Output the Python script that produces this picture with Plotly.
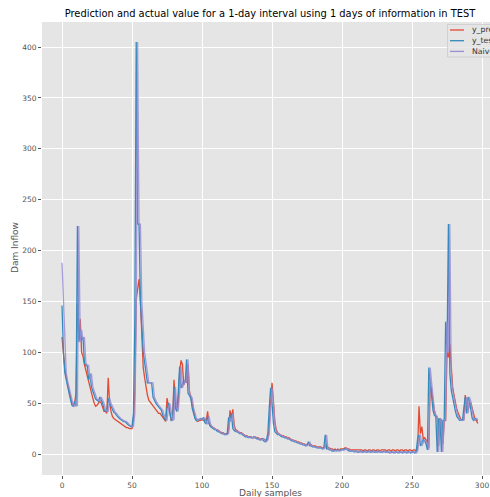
import plotly.graph_objects as go

y_test = [
    146, 100, 80, 72, 66, 60, 54, 48, 47, 52,
    47, 224, 110, 122, 112, 115, 90, 87, 87, 73,
    79, 66, 62, 58, 54, 53, 52, 56, 53, 50,
    44, 42, 42, 55, 50, 46, 44, 41, 40, 38,
    36, 35, 34, 33, 32, 32, 30, 29, 28, 27,
    27, 40, 130, 405, 226, 226, 150, 120, 100, 90,
    80, 70, 70, 70, 70, 56, 52, 50, 48, 46,
    45, 43, 38, 35, 33, 45, 50, 42, 33, 34,
    66, 45, 42, 60, 86, 65, 68, 72, 70, 93,
    60, 58, 55, 45, 40, 35, 33, 34, 34, 35,
    34, 36, 31, 30, 37, 30, 27, 26, 25, 24,
    24, 22, 22, 21, 20, 20, 19, 19, 20, 36,
    32, 40, 25, 23, 22, 22, 21, 20, 20, 19,
    18, 17, 17, 16, 17, 16, 16, 17, 16, 15,
    15, 14, 14, 15, 13, 12, 14, 20, 45, 65,
    50, 30, 22, 20, 19, 19, 18, 17, 17, 16,
    16, 15, 15, 14, 13, 13, 12, 12, 11, 11,
    10, 10, 9, 9, 8, 9, 12, 8, 8, 7,
    7, 7, 6, 6, 6, 6, 5, 6, 19, 5,
    5, 4, 4, 3, 3, 4, 3, 4, 3, 4,
    4, 4, 5, 5, 4, 3, 3, 3, 3, 2,
    3, 2, 2, 3, 2, 2, 3, 2, 2, 3,
    2, 2, 3, 2, 2, 2, 3, 2, 2, 2,
    3, 2, 2, 2, 1, 2, 2, 1, 2, 2,
    1, 2, 2, 1, 2, 2, 1, 2, 2, 1,
    2, 2, 1, 3, 15, 19, 8, 12, 14, 13,
    10, 4, 85, 70, 53, 43, 38, 37, 2, 35,
    34, 2, 33, 33, 130, 100, 226, 80, 63, 55,
    47, 42, 37, 35, 33, 33, 33, 45, 56, 40,
    56, 52, 45, 35, 33, 35, 34, 33,
]

naive = [
    188, 146, 100, 80, 72, 66, 60, 54, 48, 47,
    52, 47, 224, 110, 122, 112, 115, 90, 87, 87,
    73, 79, 66, 62, 58, 54, 53, 52, 56, 53,
    50, 44, 42, 42, 55, 50, 46, 44, 41, 40,
    38, 36, 35, 34, 33, 32, 32, 30, 29, 28,
    27, 27, 40, 130, 405, 226, 226, 150, 120, 100,
    90, 80, 70, 70, 70, 70, 56, 52, 50, 48,
    46, 45, 43, 38, 35, 33, 45, 50, 42, 33,
    34, 66, 45, 42, 60, 86, 65, 68, 72, 70,
    93, 60, 58, 55, 45, 40, 35, 33, 34, 34,
    35, 34, 36, 31, 30, 37, 30, 27, 26, 25,
    24, 24, 22, 22, 21, 20, 20, 19, 19, 20,
    36, 32, 40, 25, 23, 22, 22, 21, 20, 20,
    19, 18, 17, 17, 16, 17, 16, 16, 17, 16,
    15, 15, 14, 14, 15, 13, 12, 14, 20, 45,
    65, 50, 30, 22, 20, 19, 19, 18, 17, 17,
    16, 16, 15, 15, 14, 13, 13, 12, 12, 11,
    11, 10, 10, 9, 9, 8, 9, 12, 8, 8,
    7, 7, 7, 6, 6, 6, 6, 5, 6, 19,
    5, 5, 4, 4, 3, 3, 4, 3, 4, 3,
    4, 4, 4, 5, 5, 4, 3, 3, 3, 3,
    2, 3, 2, 2, 3, 2, 2, 3, 2, 2,
    3, 2, 2, 3, 2, 2, 2, 3, 2, 2,
    2, 3, 2, 2, 2, 1, 2, 2, 1, 2,
    2, 1, 2, 2, 1, 2, 2, 1, 2, 2,
    1, 2, 2, 1, 3, 15, 19, 8, 12, 14,
    13, 10, 4, 85, 70, 53, 43, 38, 37, 2,
    35, 34, 2, 33, 33, 130, 100, 226, 80, 63,
    55, 47, 42, 37, 35, 33, 33, 33, 45, 56,
    40, 56, 52, 45, 35, 33, 35, 34,
]

y_pred = [
    115, 95, 84, 75, 68, 62, 56, 50, 47, 50,
    60, 148, 112, 133, 100, 96, 88, 82, 78, 72,
    66, 60, 55, 50, 47, 48, 50, 52, 50, 46,
    42, 42, 40, 75, 50, 42, 37, 35, 34, 33,
    32, 31, 30, 29, 28, 27, 26, 26, 25, 25,
    25, 33, 60, 152, 160, 172, 150, 110, 85, 75,
    66, 58, 53, 51, 50, 48, 46, 44, 42, 40,
    40, 38, 35, 33, 32, 55, 48, 40, 33, 35,
    73, 52, 42, 50, 80, 92, 88, 68, 72, 70,
    88, 62, 55, 48, 40, 36, 33, 32, 33, 33,
    34, 33, 34, 32, 42, 30, 28, 27, 26, 25,
    24, 24, 23, 22, 21, 21, 20, 20, 20, 24,
    43, 35, 44, 28, 24, 23, 22, 21, 21, 20,
    19, 18, 18, 17, 17, 17, 16, 16, 17, 16,
    16, 15, 15, 15, 15, 14, 13, 15, 25, 52,
    70, 52, 32, 24, 21, 20, 19, 18, 18, 17,
    17, 16, 16, 15, 14, 14, 13, 13, 12, 12,
    11, 11, 10, 10, 9, 9, 10, 10, 9, 8,
    8, 8, 7, 7, 7, 7, 6, 6, 8, 9,
    6, 6, 5, 5, 4, 5, 4, 5, 4, 5,
    5, 5, 6, 6, 5, 5, 4, 4, 4, 4,
    4, 4, 4, 4, 4, 3, 4, 4, 3, 4,
    4, 3, 4, 4, 3, 4, 4, 3, 4, 4,
    4, 4, 3, 4, 4, 3, 4, 4, 3, 4,
    4, 3, 4, 4, 3, 4, 4, 3, 4, 4,
    3, 4, 4, 3, 5, 47, 20, 27, 15, 16,
    14, 11, 6, 70, 62, 50, 42, 38, 36, 8,
    35, 33, 10, 32, 33, 100, 95, 108, 80, 66,
    58, 50, 44, 40, 36, 34, 33, 34, 58, 50,
    42, 50, 50, 45, 38, 34, 33, 30,
]

series_names = ["y_pred", "y_test", "Naive"]
series_colors = ["#E24A33", "#348ABD", "#988ED5"]
x_ticks = [0, 50, 100, 150, 200, 250, 300]
y_ticks = [0, 50, 100, 150, 200, 250, 300, 350, 400]

samples = list(range(len(y_test)))

W, H = 490, 497
L, R, T, B = 42, 490, 22, 475

def xp(px):
    return (px - L) / (R - L)

def yp(py):
    return (B - py) / (B - T)

fig = go.Figure()
for name, vals, col, op in zip(series_names, [y_pred, y_test, naive], series_colors, [1.0, 1.0, 0.85]):
    fig.add_trace(go.Scatter(x=samples, y=vals, mode="lines", name=name,
                             line=dict(color=col, width=1.3), opacity=op))

font = "DejaVu Sans, Arial, sans-serif"
axis_common = dict(
    showgrid=True, gridcolor="white", gridwidth=1, zeroline=False,
    ticks="outside", ticklen=3, tickwidth=0.8, tickcolor="#555555",
    tickfont=dict(family=font, size=7.5, color="#555555"),
    showline=False, automargin=False,
)
fig.update_xaxes(range=[-14.3, 305.7], tickvals=x_ticks, **axis_common)
fig.update_yaxes(range=[-20.6, 424.6], tickvals=y_ticks, **axis_common)

# legend box (upper right, as in the reference)
shapes = [dict(type="rect", xref="paper", yref="paper", x0=xp(447.5), x1=xp(520), y0=yp(57), y1=yp(24.5),
               fillcolor="rgba(229,229,229,0.8)", line=dict(color="#CCCCCC", width=0.8), layer="above")]
annotations = []
for i, (name, col) in enumerate(zip(series_names, series_colors)):
    py = 30 + i * 10.7
    shapes.append(dict(type="line", xref="paper", yref="paper", x0=xp(450), x1=xp(464), y0=yp(py), y1=yp(py),
                       line=dict(color=col, width=1.3), layer="above"))
    annotations.append(dict(xref="paper", yref="paper", x=xp(470), y=yp(py), text=name, showarrow=False,
                            xanchor="left", yanchor="middle", font=dict(family=font, size=7.8, color="#333333")))

# axis titles
annotations.append(dict(xref="paper", yref="paper", x=xp(270), y=yp(493.3), text="Daily samples", showarrow=False,
                        xanchor="center", yanchor="middle", font=dict(family=font, size=9, color="#555555")))
annotations.append(dict(xref="paper", yref="paper", x=xp(15), y=yp(248), text="Dam Inflow", showarrow=False,
                        textangle=-90, xanchor="center", yanchor="middle",
                        font=dict(family=font, size=9, color="#555555")))

fig.update_layout(
    width=W, height=H,
    margin=dict(l=L, r=W - R, t=T, b=H - B, pad=0),
    paper_bgcolor="white", plot_bgcolor="#E5E5E5",
    showlegend=False,
    title=dict(text="Prediction and actual value for a 1-day interval using 1 days of information in TEST",
               x=270 / W, xref="container", xanchor="center", y=1 - 14 / H, yref="container", yanchor="middle",
               font=dict(family=font, size=9.9, color="black")),
    shapes=shapes, annotations=annotations,
)

fig.write_html("out.html", config={"displayModeBar": False},
               post_script="document.body.style.margin='0';document.body.style.overflow='hidden';")
